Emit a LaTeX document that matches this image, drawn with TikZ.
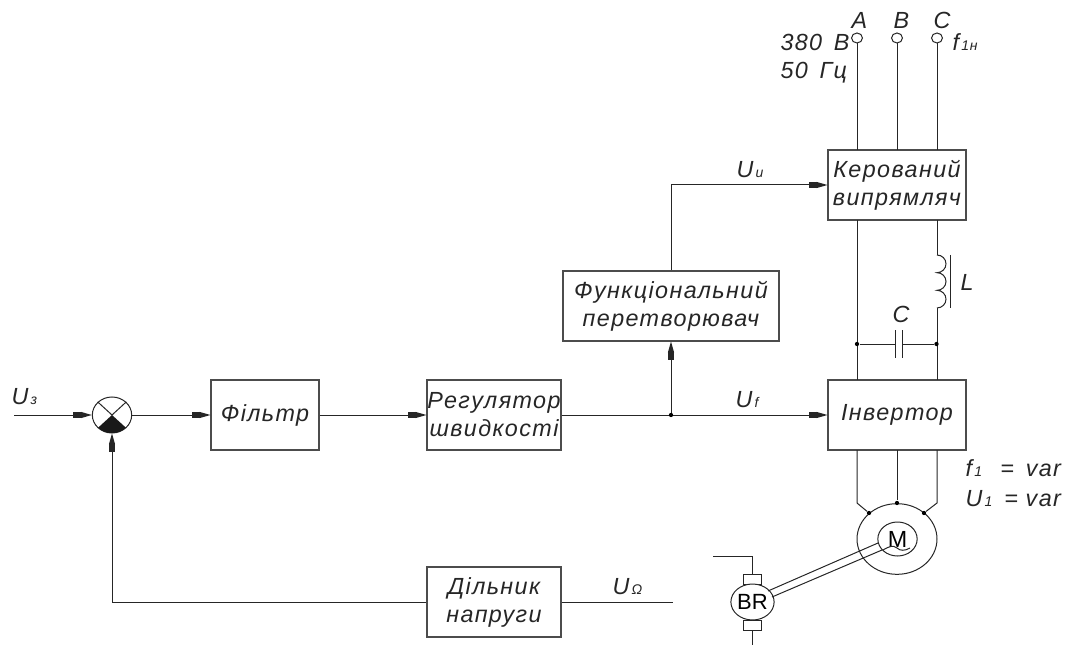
\documentclass[tikz,border=0pt]{standalone}
\usepackage{fontspec}
\setmainfont[ItalicFont=Liberation Sans Italic]{Liberation Sans}
\usetikzlibrary{arrows.meta,shapes.geometric}
\newcommand{\lsb}[1]{{\fontsize{10.5}{10.5}\selectfont\,#1}}
\newcommand{\blockfont}{\fontsize{17.5}{21}\selectfont\itshape\addfontfeature{LetterSpace=6}}
\newcommand{\lblfont}{\fontsize{17.5}{21}\selectfont\itshape\addfontfeature{LetterSpace=6}}
\tikzset{
  x=0.75pt,y=-0.75pt,
  every path/.style={line width=0.75pt},
  wire/.style={draw=black!85},
  sig/.style={draw=black!85,-{Rectangle[length=6pt,width=4.6pt,line width=0pt]Triangle[length=8pt,width=4.6pt,line width=0pt]}},
  blockbox/.style={draw=black!70,rectangle,minimum width=#1*0.75pt,minimum height=52.5pt,inner sep=0pt,align=center,font=\blockfont,line width=0.9pt,text=black!85},
  lbl/.style={anchor=base west,inner sep=0pt,font=\lblfont,text=black!85},
  term/.style={draw=black!85,ellipse,minimum width=8.2pt,minimum height=7.5pt,inner sep=0pt},
  dotmark/.style={fill=black,draw=none,circle,minimum size=3.2pt,inner sep=0pt},
}
\begin{document}
\begin{tikzpicture}
\useasboundingbox (0,0) rectangle (1078,645);
% blocks
\node[blockbox=108] (flt) at (265,415) {Фільтр};
\node[blockbox=134] (reg) at (494,415) {Регулятор\\швидкості};
\node[blockbox=216] (fn) at (671,306) {Функціональний\\перетворювач};
\node[blockbox=138] (rect) at (897,185) {Керований\\випрямляч};
\node[blockbox=138] (inv) at (897,415) {Інвертор};
\node[blockbox=134] (div) at (494,602) {Дільник\\напруги};
% summing junction
\node[draw=black!85,ellipse,minimum width=29.5pt,minimum height=27pt,inner sep=0pt] (sum) at (112,415) {};
\fill[black!90] (sum.center) -- ++(45:19.7 and 18) arc[start angle=45,end angle=135,x radius=19.7,y radius=18] -- cycle;
\draw[wire] (sum.center) -- (sum.north east) (sum.center) -- (sum.north west);
% inputs
\coordinate (uin) at (14,415);
\coordinate (jn) at (671,415);
\coordinate (bend1) at (671,185);
\coordinate (bend2) at (112,602);
\coordinate (uout) at (673,602);
\draw[sig] (uin) -- (sum.west);
\draw[sig] (sum.east) -- (flt.west);
\draw[sig] (flt.east) -- (reg.west);
\draw[sig] (reg.east) -- (inv.west);
\draw[sig] (jn) -- (fn.south);
\draw[sig] (fn.north) -- (bend1) -- (rect.west);
\draw[sig] (div.west) -- (bend2) -- (sum.south);
\draw[wire] (div.east) -- (uout);
\node[dotmark] (jd) at (jn) {};
% terminals
\node[term] (ta) at (857,38) {};
\node[term] (tb) at (897,38) {};
\node[term] (tc) at (937,38) {};
\coordinate (ra) at (857,150); \coordinate (rb) at (897,150); \coordinate (rc) at (937,150);
\draw[wire] (ta) -- (ra) (tb) -- (rb) (tc) -- (rc);
% dc link
\coordinate (r1) at (857,220); \coordinate (r2) at (937,220);
\coordinate (i1) at (857,380); \coordinate (i2) at (937,380);
\coordinate (l1) at (937,255); \coordinate (l2) at (937,308);
\draw[wire] (r1) -- (i1);
\draw[wire] (r2) -- (l1);
\draw[wire] (l1) arc[start angle=-90,end angle=90,x radius=9,y radius=8.83]
  arc[start angle=-90,end angle=90,x radius=9,y radius=8.83]
  arc[start angle=-90,end angle=90,x radius=9,y radius=8.83];
\draw[wire] (l2) -- (i2);
\coordinate (lb1) at (950,255); \coordinate (lb2) at (950,308);
\draw[wire] (lb1) -- (lb2);
% capacitor
\node[dotmark] (c1) at (857,344) {};
\node[dotmark] (c2) at (936.5,344) {};
\coordinate (p1t) at (895.7,330); \coordinate (p1b) at (895.7,358);
\coordinate (p2t) at (902,330); \coordinate (p2b) at (902,358);
\draw[wire] (p1t) -- (p1b) (p2t) -- (p2b);
\coordinate (p1) at (895.7,344); \coordinate (p2) at (902,344);
\draw[wire] (c1) -- (p1) (p2) -- (c2);
% motor
\node[draw=black!85,ellipse,minimum width=60pt,minimum height=53pt,inner sep=0pt] (mo) at (897,539) {};
\node[draw=black!85,ellipse,minimum width=29.5pt,minimum height=25.5pt,inner sep=0pt,font=\fontsize{17.5}{17.5}\selectfont] (mi) at (897.5,539) {M};
\node[dotmark] (m1) at (869,513) {};
\node[dotmark] (m2) at (897,503) {};
\node[dotmark] (m3) at (924,513) {};
\coordinate (i1b) at (857,450); \coordinate (i1c) at (857,503);
\coordinate (i2b) at (897,450);
\coordinate (i3b) at (937,450); \coordinate (i3c) at (937,503);
\draw[wire] (i1b) -- (i1c) -- (m1);
\draw[wire] (i2b) -- (m2);
\draw[wire] (i3b) -- (i3c) -- (m3);
\coordinate (sq1) at (883,550); \coordinate (sq2) at (910,548);
\draw[wire] (sq1) .. controls (890,546) and (893,545) .. (897,548) .. controls (900,551) and (905,551) .. (sq2);
% tacho
\node[draw=black!85,rectangle,minimum width=12.8pt,minimum height=8.2pt,inner sep=0pt] (bt) at (752.5,579.5) {};
\node[draw=black!85,rectangle,minimum width=12.8pt,minimum height=7.5pt,inner sep=0pt] (bb) at (752.5,625) {};
\node[draw=black!85,fill=white,ellipse,minimum width=29.5pt,minimum height=27pt,inner sep=0pt,font=\fontsize{16.5}{16.5}\selectfont] (br) at (752.5,602) {BR};
\coordinate (w1) at (713,556); \coordinate (w2) at (752.5,556); \coordinate (w3) at (752.5,645);
\draw[wire] (w1) -- (w2) -- (bt.north);
\draw[wire] (bb.south) -- (w3);
\coordinate (s1a) at (768,591); \coordinate (s1b) at (878,543);
\coordinate (s2a) at (772,597); \coordinate (s2b) at (882,550);
\draw[wire] (s1a) -- (s1b) (s2a) -- (s2b);
% labels
\node[lbl] (la) at (851,29) {A};
\node[lbl] (lb) at (893,29) {B};
\node[lbl] (lc) at (933,29) {C};
\node[lbl] (l380) at (780,51) {380\, В};
\node[lbl] (l50) at (780,79) {50\, Гц};
\node[lbl] (lf1n) at (952,51) {f\lsb{1н}};
\node[lbl] (luu) at (736,178) {U\lsb{u}};
\node[lbl] (luf) at (735,407) {U\lsb{f}};
\node[lbl] (luz) at (11,404) {U\lsb{з}};
\node[lbl] (lur) at (612,594) {U\lsb{Ω}};
\node[lbl] (ll) at (960,291) {L};
\node[lbl] (lcc) at (892,323) {C};
\node[lbl] (lf1) at (965,476) {f\lsb{1}\;\, = \,var};
\node[lbl] (lu1) at (965,506) {U\lsb{1}\, = var};
\end{tikzpicture}
\end{document}
